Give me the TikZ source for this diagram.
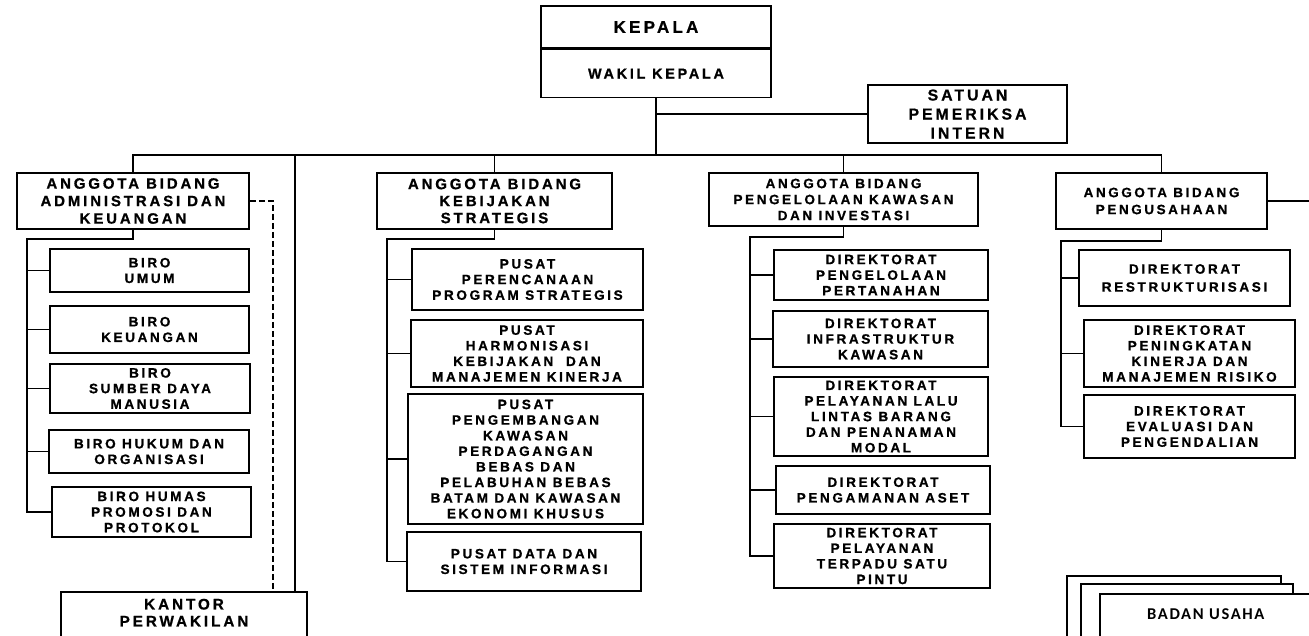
\documentclass[tikz,border=0pt]{standalone}
\usepackage{fontspec}
\setmainfont{Liberation Sans}
\newfontfamily\orgfont{Liberation Sans}[LetterSpace=19, FakeBold=0.8, BoldFont={Liberation Sans Bold}]
\newfontfamily\badanfont{Carlito}[LetterSpace=10]
\newcommand{\orgsize}[2]{\orgfont\bfseries\fontsize{#1}{#2}\selectfont}
\usetikzlibrary{positioning}

\tikzset{
	unit/.style={draw, line width=1.6pt, fill=white, align=center, inner sep=1pt, font=\orgsize{13.6}{15.6}},
	link/.style={line width=1.6pt},
}

\begin{document}
\begin{tikzpicture}[x=1pt, y=-1pt]
	\useasboundingbox (0,0) rectangle (1309,635);
	\clip (0,0) rectangle (1309,635);

	% top
	\node[unit, minimum width=230, minimum height=42, font=\orgsize{17}{20}] (kepala) at (656,27) {KEPALA};
	\node[unit, minimum width=230, minimum height=48, font=\orgsize{14.4}{17}, below=0pt of kepala] (wakil) {WAKIL KEPALA};
	\node[unit, minimum width=199, minimum height=58, font=\orgsize{15.8}{19}] (spi) at (967.5,114) {SATUAN\\PEMERIKSA\\INTERN};

	% anggota bidang
	\node[unit, minimum width=232, minimum height=56, font=\orgsize{15}{17.5}] (adm) at (133,201) {ANGGOTA BIDANG\\ADMINISTRASI DAN\\KEUANGAN};
	\node[unit, minimum width=235, minimum height=56, font=\orgsize{15}{17}] (kbj) at (494.5,201) {ANGGOTA BIDANG\\KEBIJAKAN\\STRATEGIS};
	\node[unit, minimum width=269, minimum height=53, font=\orgsize{13.5}{16}] (pkl) at (843.5,199.5) {ANGGOTA BIDANG\\PENGELOLAAN KAWASAN\\DAN INVESTASI};
	\node[unit, minimum width=211, minimum height=56, font=\orgsize{13.5}{17}] (pgs) at (1161.5,201) {ANGGOTA BIDANG\\PENGUSAHAAN};

	% biro
	\node[unit, minimum width=199, minimum height=43] (umum) at (149.5,270.5) {BIRO\\UMUM};
	\node[unit, minimum width=199, minimum height=47] (keu) at (149.5,329.5) {BIRO\\KEUANGAN};
	\node[unit, minimum width=200, minimum height=49] (sdm) at (150,388.5) {BIRO\\SUMBER DAYA\\MANUSIA};
	\node[unit, minimum width=200, minimum height=43] (hukum) at (149,451.5) {BIRO HUKUM DAN\\ORGANISASI};
	\node[unit, minimum width=199, minimum height=50] (humas) at (151.5,512) {BIRO HUMAS\\PROMOSI DAN\\PROTOKOL};
	\node[unit, anchor=north, minimum width=246, inner ysep=7pt, font=\orgsize{15.3}{17}] (kantor) at (184,591) {KANTOR\\PERWAKILAN\\\mbox{}};

	% pusat
	\node[unit, minimum width=231, minimum height=61] (ppr) at (527.5,279.5) {PUSAT\\PERENCANAAN\\PROGRAM STRATEGIS};
	\node[unit, minimum width=232, minimum height=67] (phk) at (527,353.5) {PUSAT\\HARMONISASI\\KEBIJAKAN\ \ DAN\\MANAJEMEN KINERJA};
	\node[unit, minimum width=235, minimum height=130] (ppk) at (525.5,459) {PUSAT\\PENGEMBANGAN\\KAWASAN\\PERDAGANGAN\\BEBAS DAN\\PELABUHAN BEBAS\\BATAM DAN KAWASAN\\EKONOMI KHUSUS};
	\node[unit, minimum width=234, minimum height=59] (pds) at (524,561.5) {PUSAT DATA DAN\\SISTEM INFORMASI};

	% direktorat kawasan
	\node[unit, minimum width=214, minimum height=50] (dpp) at (881,275) {DIREKTORAT\\PENGELOLAAN\\PERTANAHAN};
	\node[unit, minimum width=215, minimum height=56] (dik) at (880.5,339) {DIREKTORAT\\INFRASTRUKTUR\\KAWASAN};
	\node[unit, minimum width=214, minimum height=79] (dpl) at (881,416.5) {DIREKTORAT\\PELAYANAN LALU\\LINTAS BARANG\\DAN PENANAMAN\\MODAL};
	\node[unit, minimum width=214, minimum height=48] (dpa) at (883,490) {DIREKTORAT\\PENGAMANAN ASET};
	\node[unit, minimum width=216, minimum height=64] (dpt) at (882,556) {DIREKTORAT\\PELAYANAN\\TERPADU SATU\\PINTU};

	% direktorat pengusahaan
	\node[unit, minimum width=211, minimum height=56, font=\orgsize{13.6}{18}] (drs) at (1184.5,278) {DIREKTORAT\\RESTRUKTURISASI};
	\node[unit, minimum width=211, minimum height=67] (dpk) at (1189.5,353.5) {DIREKTORAT\\PENINGKATAN\\KINERJA DAN\\MANAJEMEN RISIKO};
	\node[unit, minimum width=211, minimum height=63] (dep) at (1189.5,426.5) {DIREKTORAT\\EVALUASI DAN\\PENGENDALIAN};

	% lines
	\coordinate (bus) at (0,155);
	\draw[link] (wakil.south) -- (wakil.south |- bus);
	\draw[link] (spi.west) -- (spi.west -| wakil.south);
	\draw[link] (adm.north) |- (bus -| pgs.north) -- (pgs.north);
	\foreach \n in {kbj, pkl}
		\draw[link] (bus -| \n.north) -- (\n.north);

	\coordinate (admrail) at (27,239);
	\coordinate (kbjrail) at (387,239);
	\coordinate (pklrail) at (750,237);
	\coordinate (pgsrail) at (1061,241);
	\draw[link] (adm.south) |- (admrail) |- (humas.west);
	\draw[link] (kbj.south) |- (kbjrail) |- (pds.west);
	\draw[link] (pkl.south) |- (pklrail) |- (dpt.west);
	\draw[link] (pgs.south) |- (pgsrail) |- (dep.west);
	\foreach \r/\n in {admrail/umum, admrail/keu, admrail/sdm, admrail/hukum, kbjrail/ppr, kbjrail/phk, kbjrail/ppk, pklrail/dpp, pklrail/dik, pklrail/dpl, pklrail/dpa, pgsrail/drs, pgsrail/dpk}
		\draw[link] (\r |- \n.west) -- (\n.west);

	\coordinate (kprline) at (295,155);
	\coordinate (kprdash) at (273,0);
	\draw[link] (kprline) -- (kprline |- kantor.north);
	\draw[link, dash pattern=on 6pt off 3pt] (adm.east) -| (kprdash |- kantor.north);

	% badan usaha
	\coordinate (badanlink) at (1309,0);
	\draw[link] (pgs.east) -- (pgs.east -| badanlink);
	\foreach \x/\y/\w in {1067/576/214, 1081/584/212}
		\draw[link, fill=white] (\x,\y) rectangle ++(\w,100);
	\node[draw, line width=1.6pt, fill=white, anchor=north west, minimum width=212, inner ysep=15pt, text depth=40pt, font=\badanfont\bfseries\fontsize{16.5}{19}\selectfont] (badan) at (1099,593) {BADAN USAHA};
\end{tikzpicture}
\end{document}
